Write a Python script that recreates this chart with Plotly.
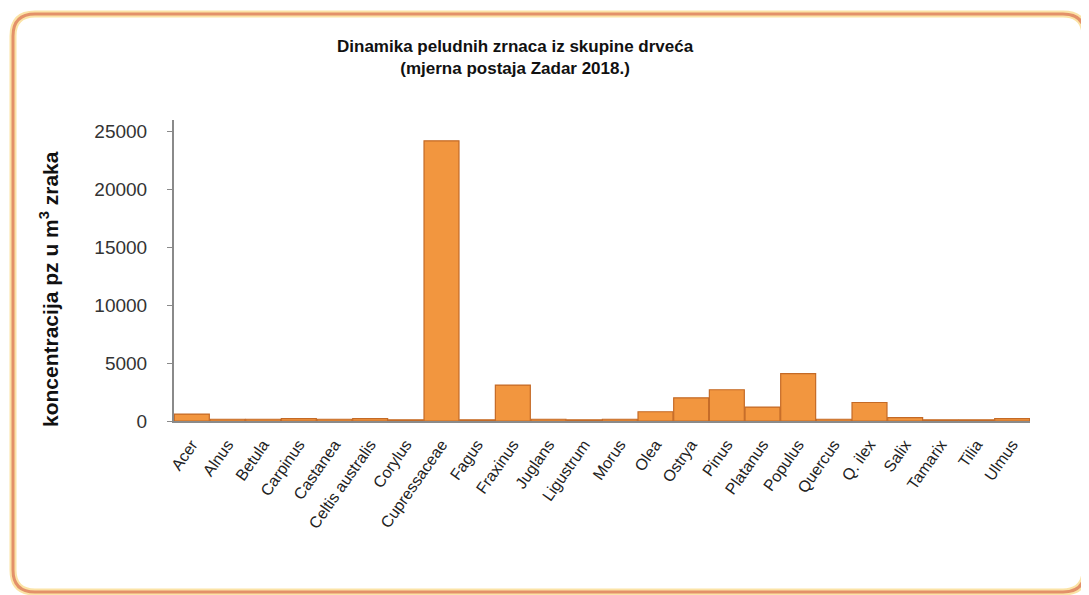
import plotly.graph_objects as go

categories = ["Acer", "Alnus", "Betula", "Carpinus", "Castanea", "Celtis australis",
              "Corylus", "Cupressaceae", "Fagus", "Fraxinus", "Juglans", "Ligustrum",
              "Morus", "Olea", "Ostrya", "Pinus", "Platanus", "Populus", "Quercus",
              "Q. ilex", "Salix", "Tamarix", "Tilia", "Ulmus"]
values = [600, 150, 150, 200, 150, 200, 100, 24200, 100, 3100, 150, 100,
          150, 800, 2000, 2700, 1200, 4100, 150, 1600, 300, 100, 100, 200]
y_ticks = [0, 5000, 10000, 15000, 20000, 25000]

OFF = 8  # page body margin
W, H = 1089 - OFF, 595 - OFF
# plot area edges in screenshot pixels
L, R, T, B = 174, 1030, 120, 421


def px(x):
    return (x - L) / (R - L)


def py(y):
    return (B - y) / (B - T)


fig = go.Figure()
fig.add_trace(go.Bar(
    x=categories, y=values,
    marker=dict(color="#F2963F", line=dict(color="#C46A26", width=1.2)),
    width=0.98,
))

# rounded frame (screenshot pixel coords)
x0, y0, x1, y1, r = 13, 14, 1085, 592, 22
path = (f"M {px(x0 + r)},{py(y0)} L {px(x1 - r)},{py(y0)} "
        f"Q {px(x1)},{py(y0)} {px(x1)},{py(y0 + r)} "
        f"L {px(x1)},{py(y1 - r)} Q {px(x1)},{py(y1)} {px(x1 - r)},{py(y1)} "
        f"L {px(x0 + r)},{py(y1)} Q {px(x0)},{py(y1)} {px(x0)},{py(y1 - r)} "
        f"L {px(x0)},{py(y0 + r)} Q {px(x0)},{py(y0)} {px(x0 + r)},{py(y0)} Z")
fig.add_shape(type="path", path=path, xref="paper", yref="paper",
              line=dict(color="#FBE3A6", width=7), layer="below")
fig.add_shape(type="path", path=path, xref="paper", yref="paper",
              line=dict(color="#E39169", width=3), layer="below")

fig.add_annotation(
    text="<b>Dinamika peludnih zrnaca iz skupine drveća<br>(mjerna postaja Zadar 2018.)</b>",
    xref="paper", yref="paper", x=px(515), y=py(58), showarrow=False,
    xanchor="center", yanchor="middle",
    font=dict(family="Liberation Sans, Arial", size=17, color="#111111"))

fig.add_annotation(
    text="<b>koncentracija pz u m<sup>3</sup> zraka</b>",
    xref="paper", yref="paper", x=px(49), y=py(289), showarrow=False,
    textangle=-90, xanchor="center", yanchor="middle",
    font=dict(family="Liberation Sans, Arial", size=21, color="#111111"))

fig.update_layout(
    width=W, height=H,
    margin=dict(l=L - OFF, r=W - (R - OFF), t=T - OFF, b=H - (B - OFF), pad=0),
    paper_bgcolor="white", plot_bgcolor="white",
    showlegend=False,
    font=dict(family="Liberation Sans, Arial", color="#222222"),
)
fig.update_yaxes(
    range=[0, 26000], tickvals=y_ticks, ticktext=[str(v) for v in y_ticks],
    showgrid=False, zeroline=False, showline=True, linecolor="#8a8a8a", linewidth=2,
    ticks="outside", ticklen=5, tickcolor="#8a8a8a", ticklabelstandoff=16,
    tickfont=dict(size=19, color="#333333"),
)
fig.update_xaxes(
    showgrid=False, showline=True, linecolor="#8a8a8a", linewidth=2,
    ticks="", tickangle=-55, tickfont=dict(size=16, color="#222222"),
    ticklabelstandoff=6,
)

fig.write_html("out.html")
